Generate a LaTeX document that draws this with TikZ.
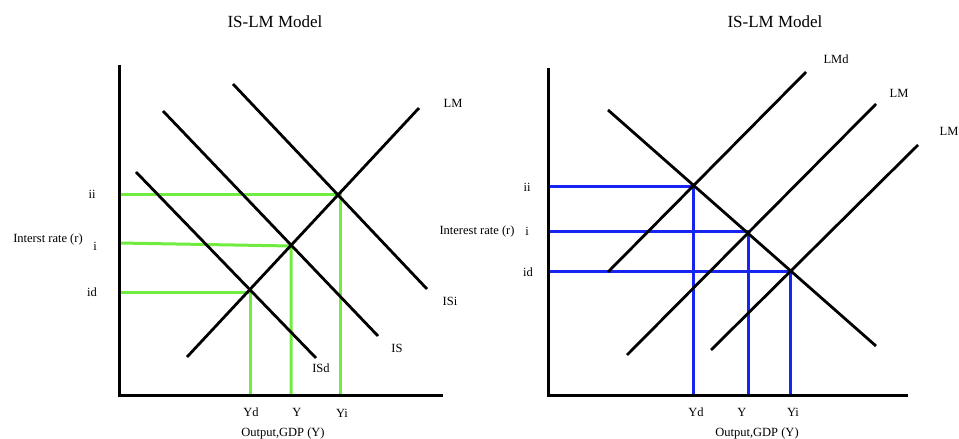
\documentclass[tikz,border=0pt]{standalone}
\usepackage{fontspec}
\setmainfont{Liberation Serif}
\usetikzlibrary{positioning}
\definecolor{lgreen}{RGB}{112,236,62}
\definecolor{dblue}{RGB}{22,38,240}

\begin{document}
\begin{tikzpicture}[x=1pt,y=-1pt,
    curve/.style={line width=2.8pt},
    axis/.style={line width=3pt},
    guideg/.style={lgreen,line width=3pt},
    guideb/.style={dblue,line width=3pt},
    lab/.style={font=\fontsize{12.5}{14}\selectfont,inner sep=0pt},
    ttl/.style={font=\fontsize{17}{20}\selectfont,inner sep=0pt}]
  \useasboundingbox (0,0) rectangle (959,439);

  % left panel
  \node[ttl] (ttlL) at (275,22) {IS-LM Model};
  \coordinate (oL) at (119,395);
  \coordinate (topL) at (119,65);
  \coordinate (endL) at (443,395);
  \coordinate (lmA) at (187,357);  \coordinate (lmB) at (419,108);
  \coordinate (isdA) at (136,172); \coordinate (isdB) at (316,358);
  \coordinate (isA) at (163,111);  \coordinate (isB) at (378,336);
  \coordinate (isiA) at (233,84);  \coordinate (isiB) at (427,289);
  \coordinate (pii) at (340,194);
  \coordinate (pi) at (291,246);
  \coordinate (pid) at (250,292);
  \coordinate (ai) at (119,243);
  \draw[guideg] (pii -| oL) -- (pii) -- (pii |- oL);
  \draw[guideg] (ai) -- (pi) -- (pi |- oL);
  \draw[guideg] (pid -| oL) -- (pid) -- (pid |- oL);
  \draw[curve] (lmA) -- (lmB);
  \draw[curve] (isdA) -- (isdB);
  \draw[curve] (isA) -- (isB);
  \draw[curve] (isiA) -- (isiB);
  \draw[axis] (topL) -- (oL) -- (endL);
  \node[lab] (lmL) at (453,103) {LM};
  \node[lab] (isiL) at (450,301) {ISi};
  \node[lab] (isL) at (397,348) {IS};
  \node[lab] (isdL) at (321,368) {ISd};
  \node[lab] (iiL) at (92,194) {ii};
  \node[lab] (iL) at (95,246) {i};
  \node[lab] (idL) at (92,292) {id};
  \node[lab] (rL) at (48,239) {Interst rate (r)};
  \node[lab] (ydL) at (251,412) {Yd};
  \node[lab] (yL) at (297,412) {Y};
  \node[lab] (yiL) at (342,413) {Yi};
  \node[lab] (gdpL) at (283,433) {Output,GDP (Y)};

  % right panel
  \node[ttl] (ttlR) at (775,22) {IS-LM Model};
  \coordinate (oR) at (548,395);
  \coordinate (topR) at (548,68);
  \coordinate (endR) at (908,395);
  \coordinate (isRA) at (608,110);  \coordinate (isRB) at (876,346);
  \coordinate (lmdA) at (608,272);  \coordinate (lmdB) at (806,72);
  \coordinate (lmRA) at (627,355);  \coordinate (lmRB) at (876,104);
  \coordinate (lmiA) at (711,350);  \coordinate (lmiB) at (918,145);
  \coordinate (qii) at (693,186);
  \coordinate (qi) at (748,231);
  \coordinate (qid) at (790,271);
  \draw[guideb] (qii -| oR) -- (qii) -- (qii |- oR);
  \draw[guideb] (qi -| oR) -- (qi) -- (qi |- oR);
  \draw[guideb] (qid -| oR) -- (qid) -- (qid |- oR);
  \draw[curve] (isRA) -- (isRB);
  \draw[curve] (lmdA) -- (lmdB);
  \draw[curve] (lmRA) -- (lmRB);
  \draw[curve] (lmiA) -- (lmiB);
  \draw[axis] (topR) -- (oR) -- (endR);
  \node[lab] (lmdR) at (836,59) {LMd};
  \node[lab] (lmR) at (899,93) {LM};
  \node[lab] (lmiR) at (949,131) {LM};
  \node[lab] (iiR) at (527,187) {ii};
  \node[lab] (iR) at (527,231) {i};
  \node[lab] (idR) at (528,272) {id};
  \node[lab] (rR) at (477,231) {Interest rate (r)};
  \node[lab] (ydR) at (696,412) {Yd};
  \node[lab] (yR) at (742,412) {Y};
  \node[lab] (yiR) at (793,412) {Yi};
  \node[lab] (gdpR) at (757,433) {Output,GDP (Y)};
\end{tikzpicture}
\end{document}
